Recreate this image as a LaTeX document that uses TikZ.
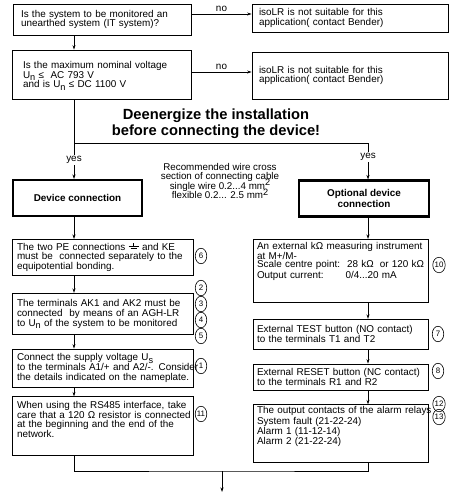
\documentclass[tikz,border=0pt]{standalone}
\usepackage{fontspec}
\setmainfont{Liberation Sans}
\usetikzlibrary{positioning,shapes.geometric,arrows.meta}

\newcommand\lowsub[1]{\raisebox{-2.6pt}[0pt][0pt]{\fontsize{9.2}{9.2}\selectfont #1}}
\newcommand\highsup[1]{\raisebox{3.4pt}[0pt][0pt]{\fontsize{9.2}{9.2}\selectfont #1}}
\newcommand\earthsym{\makebox[10pt][l]{\rlap{\hspace{4.7pt}\rule[3.6pt]{0.6pt}{3.6pt}}\rlap{\rule[3.6pt]{10pt}{0.6pt}}\hspace{2pt}\rule[1.4pt]{6pt}{0.6pt}\hspace{2pt}}}

\begin{document}
\begin{tikzpicture}[x=1pt,y=-1pt,line width=0.7pt,
  >={Stealth[length=4.5pt,width=3pt]},
  txt/.style={font=\fontsize{9.9}{9.8}\selectfont},
  box/.style={draw,line width=0.8pt,txt,align=left,inner ysep=2pt},
  lbox/.style={box,text width=171pt,inner xsep=5pt,anchor=north},
  rbox/.style={box,text width=167pt,inner xsep=4pt,anchor=north,font=\fontsize{9.9}{8.3}\selectfont},
  head/.style={draw,line width=2.4pt,align=center,font=\bfseries\fontsize{9.9}{9.2}\selectfont,minimum height=35.6pt},
  num/.style={ellipse,draw,line width=0.6pt,inner sep=0pt,minimum width=11.5pt,minimum height=15.5pt,font=\fontsize{7.9}{7.9}\selectfont},
  tag/.style={fill=white,inner sep=1pt,txt},
  lab/.style={above,inner sep=2.5pt,txt}]
  \useasboundingbox (0,0) rectangle (454,494);
  \coordinate (lx) at (74,0);
  \coordinate (rx) at (368,0);

  % questions
  \node[box,text width=162pt,inner xsep=8pt,minimum height=31pt] (sys) at (102,19.5)
    {Is the system to be monitored an\\unearthed system (IT system)?};
  \node[box,text width=157pt,inner xsep=11pt,minimum height=49pt] (volt) at (101.5,74.5)
    {Is the maximum nominal voltage\\U\lowsub{n} ≤\ \ AC 793 V\\and is U\lowsub{n} ≤ DC 1100 V};
  \node[box,text width=182pt,inner xsep=7pt,minimum height=28pt] (nosys) at (350,18)
    {isoLR is not suitable for this\\application( contact Bender)};
  \node[box,text width=182pt,inner xsep=7pt,minimum height=47pt] (novolt) at (350,75.5)
    {isoLR is not suitable for this\\application( contact Bender)};

  \node[font=\bfseries\fontsize{14.7}{16}\selectfont,align=center] (warn) at (216,124)
    {Deenergize the installation\\before connecting the device!};

  \node[head,minimum width=128.6pt] (dev) at (77.5,198) {Device connection};
  \node[head,minimum width=129.6pt] (opt) at (364,198.5) {Optional device\\connection};
  \node[align=center,font=\fontsize{9.8}{9.3}\selectfont] (wire) at (220,181)
    {Recommended wire cross\\section of connecting cable\\single wire 0.2...4 mm\highsup{2}\\flexible 0.2... 2.5 mm\highsup{2}};

  % left column
  \node[lbox,minimum height=36pt] (pe) at (102.5,239)
    {The two PE connections \earthsym{} and KE\\must be\ \ connected separately to the\\equipotential bonding.};
  \node[lbox,minimum height=41pt,below=17pt of pe] (term)
    {The terminals AK1 and AK2 must be\\connected\ \ by means of an AGH-LR\\to U\lowsub{n} of the system to be monitored};
  \node[lbox,minimum height=38pt,below=14pt of term] (supply)
    {Connect the supply voltage U\lowsub{s}\\\mbox{to the terminals A1/+ and A2/-. Consider}\\\mbox{the details indicated on the nameplate.}};
  \node[lbox,text height=7pt,text depth=43pt,inner ysep=4.5pt,below=9pt of supply] (rs)
    {When using the RS485 interface, take\\\mbox{care that a 120 Ω resistor is connected}\\at the beginning and the end of the\\network.};

  % right column
  \node[rbox,text height=7pt,text depth=50pt,inner ysep=3pt] (kohm) at (340.5,239)
    {An external kΩ measuring instrument\\at M+/M-\\\mbox{Scale centre point:\hspace{7pt}28 kΩ\hspace{6pt}or 120 kΩ}\\Output current:\hspace{22pt}0/4...20 mA};
  \node[rbox,minimum height=30pt,below=16pt of kohm] (test)
    {External TEST button (NO contact)\\to the terminals T1 and T2};
  \node[rbox,minimum height=26pt,below=14pt of test] (reset)
    {External RESET button (NC contact)\\to the terminals R1 and R2};
  \node[rbox,text height=7pt,text depth=47pt,inner ysep=2pt,below=14pt of reset] (relay)
    {\mbox{The output contacts of the alarm relays}\\System fault (21-22-24)\\Alarm 1 (11-12-14)\\Alarm 2 (21-22-24)};

  % numbers
  \node[num] (n6) at (201,256) {6};
  \node[num] (n2) at (201,288) {2};
  \node[num] (n3) at (201,304) {3};
  \node[num] (n4) at (201,320) {4};
  \node[num] (n5) at (201,336) {5};
  \node[num] (n1) at (201,366) {1};
  \node[num] (n11) at (201,414) {11};
  \node[num] (n10) at (439,265) {10};
  \node[num] (n7) at (438,334) {7};
  \node[num] (n8) at (438,371) {8};
  \node[num] (n12) at (439,404) {12};
  \node[num] (n13) at (439,417) {13};

  % connectors
  \draw[->] (sys.south -| lx) -- (volt.north -| lx);
  \draw[->] ([yshift=5.5pt]sys.east) -- node[lab] {no} ([yshift=5.5pt]sys.east -| nosys.west);
  \draw[->] ([yshift=2.5pt]volt.east) -- node[lab] {no} ([yshift=2.5pt]volt.east -| novolt.west);
  \coordinate (split) at (74,143);
  \draw[->] (volt.south -| lx) -- node[tag,pos=0.76] {yes} (dev.north -| lx);
  \draw[->] (split) -| node[tag,pos=0.69] {yes} (opt.north -| rx);
  \draw[->] (dev.south -| lx) -- (pe.north -| lx);
  \draw[->] (pe.south -| lx) -- (term.north -| lx);
  \draw[->] (term.south -| lx) -- (supply.north -| lx);
  \draw[->] (supply.south -| lx) -- (rs.north -| lx);
  \draw[->] (opt.south -| rx) -- (kohm.north -| rx);
  \draw[->] (kohm.south -| rx) -- (test.north -| rx);
  \draw[->] (test.south -| rx) -- (reset.north -| rx);
  \draw[->] (reset.south -| rx) -- (relay.north -| rx);
  \coordinate (join) at (222,471);
  \coordinate (next) at (222,492);
  \draw (rs.south -| lx) |- (join) -| (relay.south -| rx);
  \draw[->] (join) -- (next);
\end{tikzpicture}
\end{document}
